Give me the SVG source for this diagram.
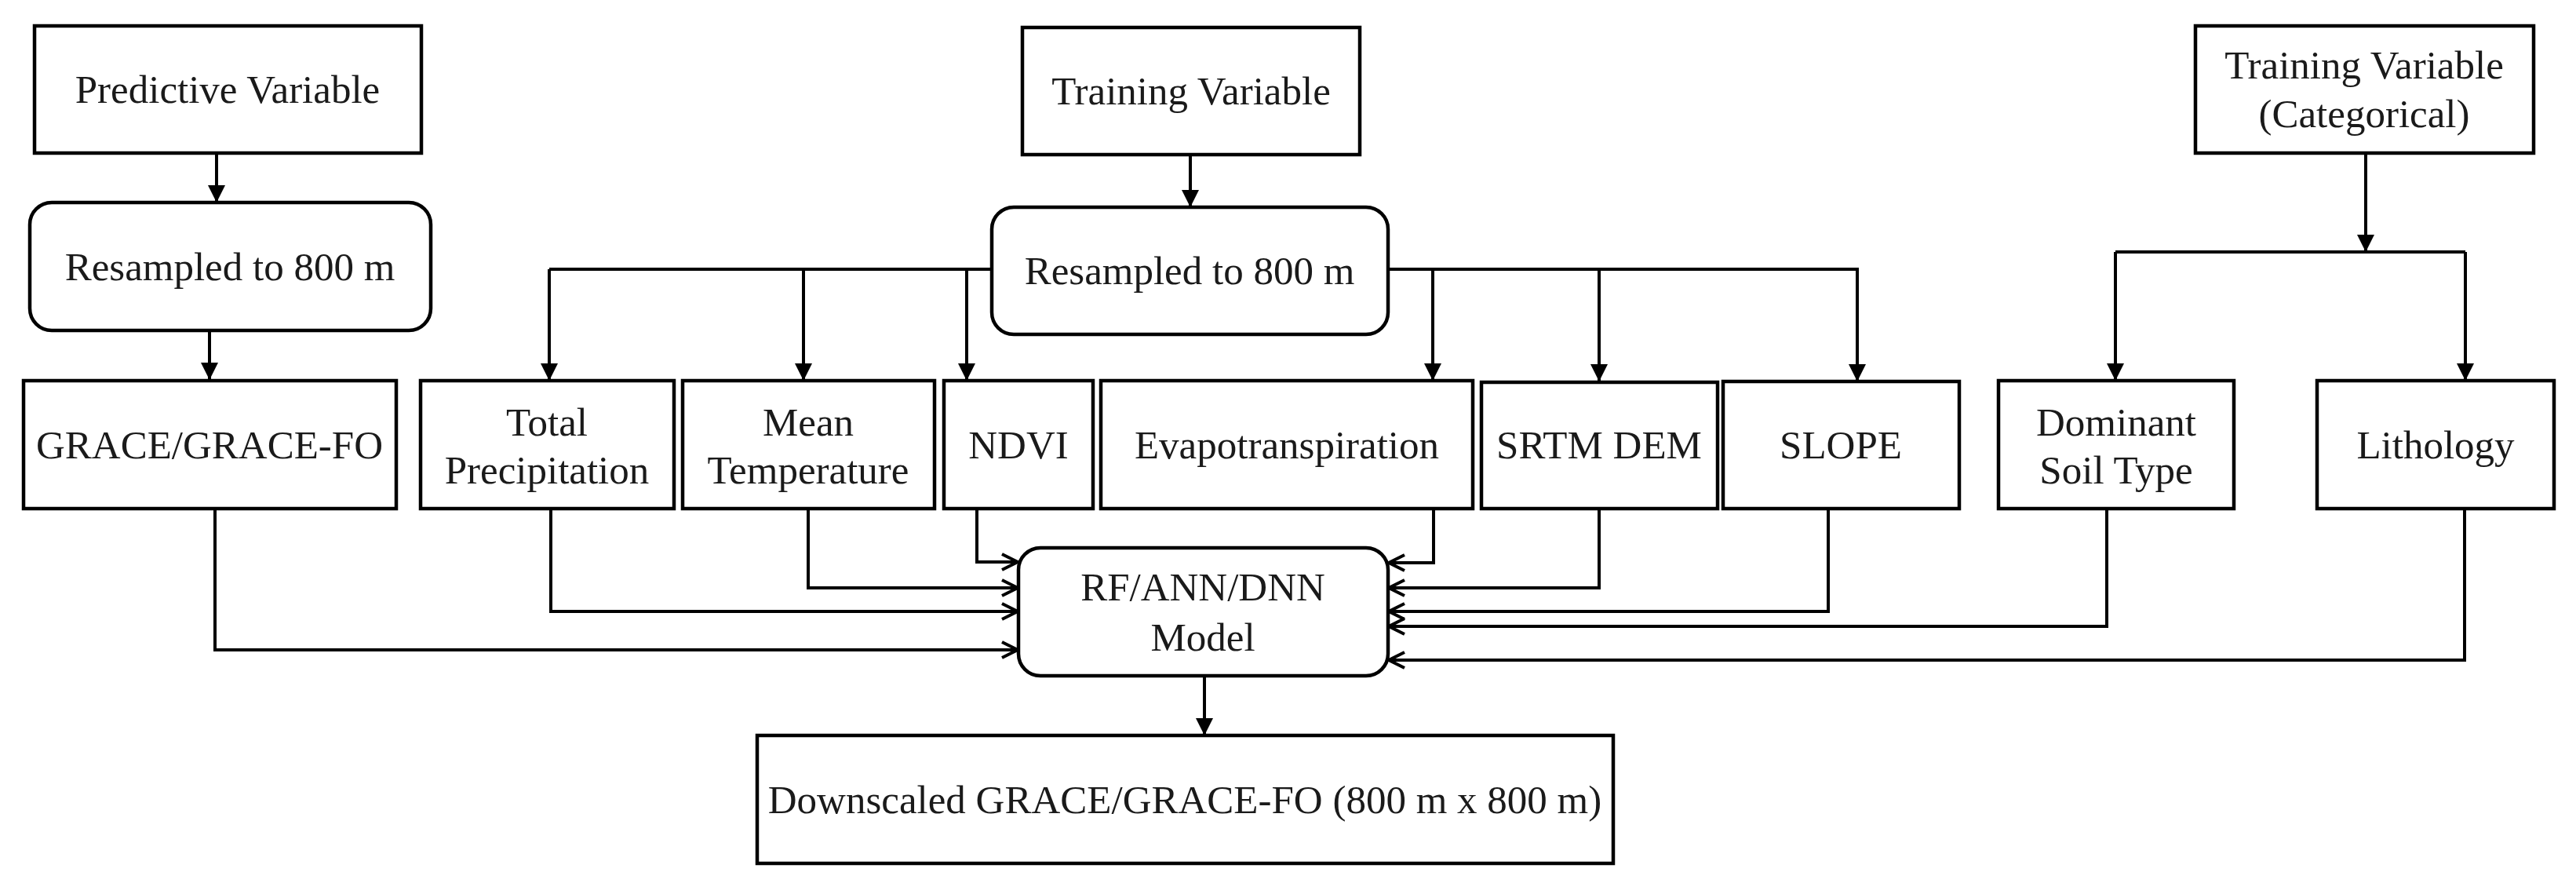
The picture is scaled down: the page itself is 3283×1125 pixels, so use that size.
<svg xmlns="http://www.w3.org/2000/svg" width="3283" height="1125" viewBox="0 0 3283 1125">
<style>
.box{fill:#fff;stroke:#000;stroke-width:4.5}
.t{font-family:"Liberation Serif","Times New Roman",serif;font-size:51px;fill:#1a1a1a;text-anchor:middle}
.c{fill:none;stroke:#000;stroke-width:4}
.va{marker-end:url(#tri)}
.ha{marker-end:url(#chev)}
</style>
<defs>
<marker id="tri" markerUnits="userSpaceOnUse" markerWidth="24" markerHeight="24" refX="22" refY="11" orient="auto">
<path d="M0,0 L22,11 L0,22 z" fill="#000"/>
</marker>
<marker id="chev" markerUnits="userSpaceOnUse" markerWidth="28" markerHeight="28" refX="22" refY="12" orient="auto">
<path d="M2,2 L22,12 L2,22" fill="none" stroke="#000" stroke-width="4"/>
</marker>
</defs>
<rect width="3283" height="1125" fill="#fff"/>

<g id="connectors">
<line class="c va" x1="276" y1="195" x2="276" y2="258"/>
<line class="c va" x1="267" y1="421" x2="267" y2="484"/>
<line class="c va" x1="1517" y1="197" x2="1517" y2="264"/>
<path class="c" d="M1264,343 H700"/>
<line class="c va" x1="700" y1="343" x2="700" y2="485"/>
<line class="c va" x1="1024" y1="343" x2="1024" y2="485"/>
<line class="c va" x1="1232" y1="343" x2="1232" y2="485"/>
<path class="c va" d="M1769,343 H2367 V486"/>
<line class="c va" x1="1826" y1="343" x2="1826" y2="485"/>
<line class="c va" x1="2038" y1="343" x2="2038" y2="486"/>
<line class="c va" x1="3015" y1="195" x2="3015" y2="321"/>
<path class="c" d="M2696,321 H3142"/>
<line class="c va" x1="2696" y1="321" x2="2696" y2="485"/>
<line class="c va" x1="3142" y1="321" x2="3142" y2="485"/>
<path class="c ha" d="M274,648 V828 H1297"/>
<path class="c ha" d="M702,648 V779 H1297"/>
<path class="c ha" d="M1030,648 V749 H1297"/>
<path class="c ha" d="M1245,648 V716 H1297"/>
<path class="c ha" d="M1827,648 V717 H1770"/>
<path class="c ha" d="M2038,648 V749 H1770"/>
<path class="c ha" d="M2330,648 V779 H1770"/>
<path class="c ha" d="M2685,648 V798 H1770"/>
<path class="c ha" d="M3141,648 V841 H1770"/>
<line class="c va" x1="1535" y1="861" x2="1535" y2="937"/>
</g>

<g id="predictive">
<rect class="box" x="44" y="33" width="493" height="162"/>
<text class="t" x="290" y="131">Predictive Variable</text>
</g>
<g id="resampled-left">
<rect class="box" x="38" y="258" width="511" height="163" rx="28"/>
<text class="t" x="293" y="357">Resampled to 800 m</text>
</g>
<g id="training">
<rect class="box" x="1303" y="35" width="430" height="162"/>
<text class="t" x="1518" y="133">Training Variable</text>
</g>
<g id="resampled-center">
<rect class="box" x="1264" y="264" width="505" height="162" rx="28"/>
<text class="t" x="1516" y="362">Resampled to 800 m</text>
</g>
<g id="training-cat">
<rect class="box" x="2798" y="33" width="431" height="162"/>
<text class="t" x="3013" y="100">Training Variable</text>
<text class="t" x="3013" y="162">(Categorical)</text>
</g>

<g id="grace">
<rect class="box" x="30" y="485" width="475" height="163"/>
<text class="t" x="267" y="584">GRACE/GRACE-FO</text>
</g>
<g id="precip">
<rect class="box" x="536" y="485" width="323" height="163"/>
<text class="t" x="697" y="555">Total</text>
<text class="t" x="697" y="616">Precipitation</text>
</g>
<g id="temp">
<rect class="box" x="870" y="485" width="321" height="163"/>
<text class="t" x="1030" y="555">Mean</text>
<text class="t" x="1030" y="616">Temperature</text>
</g>
<g id="ndvi">
<rect class="box" x="1203" y="485" width="190" height="163"/>
<text class="t" x="1298" y="584">NDVI</text>
</g>
<g id="evapo">
<rect class="box" x="1403" y="485" width="474" height="163"/>
<text class="t" x="1640" y="584">Evapotranspiration</text>
</g>
<g id="srtm">
<rect class="box" x="1888" y="487" width="301" height="161"/>
<text class="t" x="2038" y="584">SRTM DEM</text>
</g>
<g id="slope">
<rect class="box" x="2196" y="486" width="301" height="162"/>
<text class="t" x="2346" y="584">SLOPE</text>
</g>
<g id="soil">
<rect class="box" x="2547" y="485" width="300" height="163"/>
<text class="t" x="2697" y="555">Dominant</text>
<text class="t" x="2697" y="616">Soil Type</text>
</g>
<g id="lithology">
<rect class="box" x="2953" y="485" width="302" height="163"/>
<text class="t" x="3104" y="584">Lithology</text>
</g>

<g id="model">
<rect class="box" x="1298" y="698" width="471" height="163" rx="28"/>
<text class="t" x="1533" y="765">RF/ANN/DNN</text>
<text class="t" x="1533" y="829">Model</text>
</g>
<g id="downscaled">
<rect class="box" x="965" y="937" width="1091" height="163"/>
<text class="t" x="1510" y="1036">Downscaled GRACE/GRACE-FO (800 m x 800 m)</text>
</g>
</svg>
